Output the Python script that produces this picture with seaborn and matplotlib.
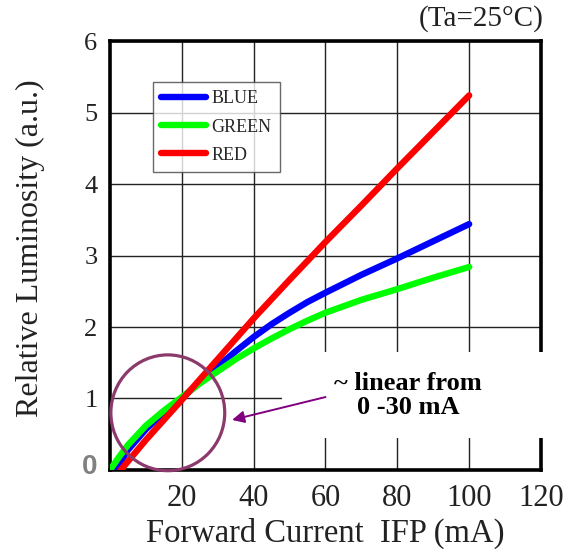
import numpy as np
import pandas as pd
import matplotlib
matplotlib.use("Agg")
import matplotlib.pyplot as plt
from matplotlib.patches import Ellipse, Rectangle
import seaborn as sns

# ── data ────────────────────────────────────────────────────────────────
blue_x = [1.5, 5, 10, 15, 20, 25, 30, 35, 40, 45, 50, 55, 60, 70, 80, 90, 100]
blue_y = [0.0, 0.28, 0.57, 0.8, 1.0, 1.23, 1.45, 1.66, 1.86, 2.04, 2.2, 2.35,
          2.48, 2.73, 2.96, 3.2, 3.44]
green_x = [0, 2.5, 5, 10, 15, 20, 25, 30, 35, 40, 45, 50, 55, 60, 70, 80, 90, 100]
green_y = [0.0, 0.18, 0.35, 0.62, 0.83, 1.02, 1.21, 1.38, 1.55, 1.7, 1.84,
           1.97, 2.09, 2.2, 2.38, 2.53, 2.69, 2.84]
red_x = [3, 10, 20, 30, 40, 50, 60, 70, 80, 90, 100]
red_y = [0.0, 0.42, 0.98, 1.55, 2.12, 2.66, 3.19, 3.7, 4.22, 4.73, 5.24]

x_ticks = [20, 40, 60, 80, 100, 120]
y_ticks = [1, 2, 3, 4, 5, 6]
series_names = ["BLUE", "GREEN", "RED"]
series_colors = ["#0000ff", "#00ff00", "#ff0000"]


def main():
    sns.set_theme(style="white")
    plt.rcParams["font.family"] = ["Liberation Serif", "DejaVu Serif"]

    df = pd.concat([
        pd.DataFrame({"current": blue_x, "lum": blue_y, "led": "BLUE"}),
        pd.DataFrame({"current": green_x, "lum": green_y, "led": "GREEN"}),
        pd.DataFrame({"current": red_x, "lum": red_y, "led": "RED"}),
    ], ignore_index=True)

    fig = plt.figure(figsize=(5.77, 5.52), dpi=100)
    ax = fig.add_axes([0.1906, 0.1486, 0.747, 0.777])

    sns.lineplot(data=df, x="current", y="lum", hue="led",
                 hue_order=series_names, palette=series_colors,
                 linewidth=4.6, ax=ax, zorder=4, sort=False)

    ax.set_xlim(0, 120)
    ax.set_ylim(0, 6)
    ax.set_xticks(x_ticks)
    ax.set_yticks(y_ticks)
    ax.grid(True, color="#222222", linewidth=1.0)
    ax.tick_params(axis="x", length=0, labelsize=22, colors="#222222", pad=10)
    ax.tick_params(axis="y", length=0, labelsize=19, colors="#222222", pad=9)
    for sp in ax.spines.values():
        sp.set_color("black")
        sp.set_linewidth(2.6)

    ax.set_xlabel("Forward Current  IFP (mA)", fontsize=23.5, color="#222222")
    ax.set_ylabel("Relative Luminosity (a.u.)", fontsize=23, color="#222222")
    ax.xaxis.set_label_coords(0.5, -0.112)
    ax.yaxis.set_label_coords(-0.151, 0.517)
    ax.text(1.007, 1.02, "(Ta=25°C)", transform=ax.transAxes, ha="right",
            va="bottom", fontsize=21, color="#222222")

    # extra "0" label added on the original
    ax.text(-0.03, 0.007, "0", transform=ax.transAxes, ha="right", va="center",
            fontsize=20, fontweight="bold", color="#808080",
            family=["Liberation Sans", "DejaVu Sans"])

    leg = ax.legend(loc="upper left", bbox_to_anchor=(0.0998, 0.904),
                    borderaxespad=0, frameon=True, fontsize=13,
                    handlelength=2.5, handletextpad=0.3, borderpad=0.45,
                    labelspacing=0.62, fancybox=False, title=None)
    leg.get_frame().set_edgecolor("#444444")
    leg.get_frame().set_linewidth(1.0)
    for h in leg.get_lines():
        h.set_linewidth(4.6)

    # annotation: white box, circle and arrow
    box = Rectangle((0.399, 0.075), 0.7, 0.2, transform=ax.transAxes,
                    facecolor="white", edgecolor="none", zorder=3, clip_on=False)
    ax.add_patch(box)
    ax.text(0.692, 0.173, "~ linear from\n0 -30 mA", transform=ax.transAxes,
            ha="center", va="center", fontsize=19, fontweight="bold",
            color="black", linespacing=1.05, zorder=6)
    circ = Ellipse((16.1, 0.8), 31.7, 1.62, fill=False, edgecolor="#8b3a6b",
                   linewidth=2.3, zorder=5, clip_on=False)
    ax.add_patch(circ)
    ax.annotate("", xy=(34, 0.7), xytext=(60, 1.02),
                arrowprops=dict(arrowstyle="-|>", color="#800080", lw=1.4,
                                mutation_scale=18, shrinkA=0, shrinkB=0),
                zorder=6)

    fig.savefig("out.png", dpi=100)
    plt.close(fig)


if __name__ == "__main__":
    main()
